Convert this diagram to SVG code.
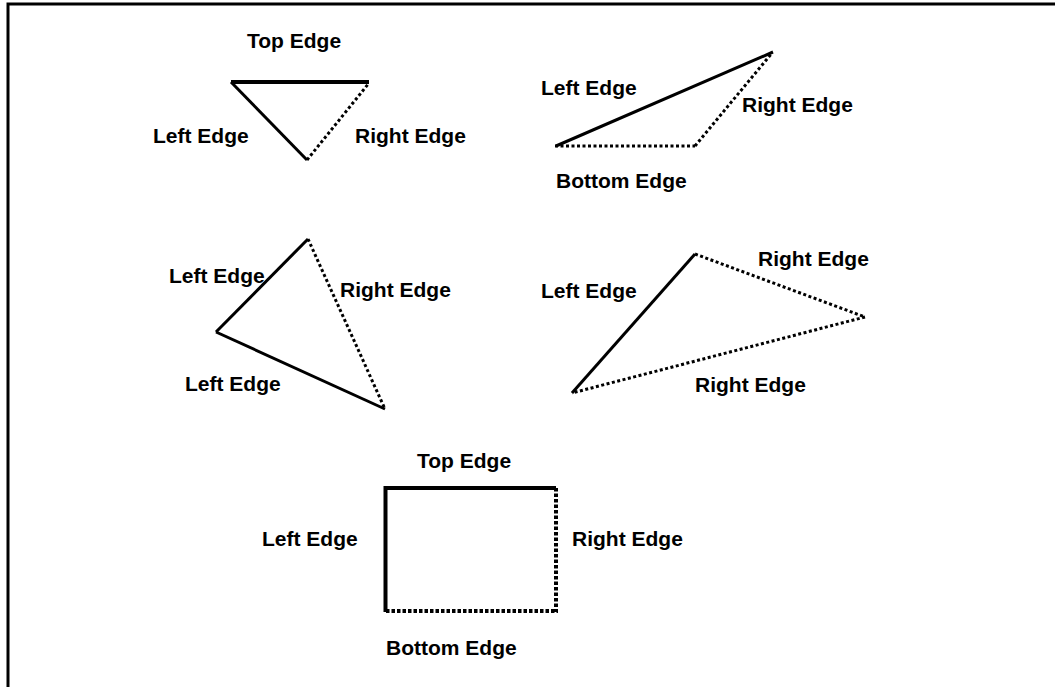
<svg xmlns="http://www.w3.org/2000/svg" width="1055" height="687" viewBox="0 0 1055 687">
<style>
text{font-family:"Liberation Sans",Arial,sans-serif;font-weight:bold;font-size:21px;fill:#000}
.s{stroke:#000;stroke-width:3;fill:none;stroke-linecap:butt}
.t{stroke:#000;stroke-width:4;fill:none}
.d{stroke:#000;stroke-width:3;fill:none;stroke-dasharray:3 2.5}
.dt{stroke:#000;stroke-width:4;fill:none;stroke-dasharray:3.5 2}
</style>
<rect width="1055" height="687" fill="#fff"/>
<g id="frame"><path d="M8 687V4H1055" stroke="#000" stroke-width="3" fill="none"/></g>
<g id="connectors">
<line class="t" x1="231" y1="82" x2="369" y2="82"/>
<line class="s" x1="231" y1="82" x2="307" y2="160"/>
<line class="d" x1="307" y1="160" x2="369" y2="83"/>
<line class="s" x1="556" y1="146" x2="773" y2="52"/>
<line class="d" x1="555" y1="146" x2="695" y2="146"/>
<line class="d" x1="695" y1="146" x2="772" y2="53"/>
<line class="s" x1="308" y1="239" x2="216" y2="332"/>
<line class="s" x1="216" y1="332" x2="385" y2="409"/>
<line class="d" x1="308" y1="239" x2="385" y2="409"/>
<line class="s" x1="572" y1="393" x2="695" y2="254"/>
<line class="d" x1="695" y1="254" x2="865" y2="317"/>
<line class="d" x1="865" y1="317" x2="572" y2="393"/>
<path class="t" d="M385.5 612V488H556"/>
<line class="dt" x1="556" y1="488" x2="556" y2="612"/>
<line class="dt" x1="386" y1="611" x2="558" y2="611"/>
</g>
<g id="tri1"><text x="247" y="48">Top Edge</text><text x="153" y="143">Left Edge</text><text x="355" y="143">Right Edge</text></g>
<g id="tri2"><text x="541" y="95">Left Edge</text><text x="742" y="112">Right Edge</text><text x="556" y="188">Bottom Edge</text></g>
<g id="tri3"><text x="169" y="283">Left Edge</text><text x="340" y="297">Right Edge</text><text x="185" y="391">Left Edge</text></g>
<g id="tri4"><text x="758" y="266">Right Edge</text><text x="541" y="298">Left Edge</text><text x="695" y="392">Right Edge</text></g>
<g id="rect"><text x="417" y="468">Top Edge</text><text x="262" y="546">Left Edge</text><text x="572" y="546">Right Edge</text><text x="386" y="655">Bottom Edge</text></g>
</svg>
